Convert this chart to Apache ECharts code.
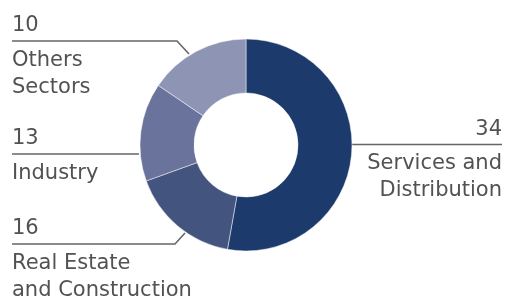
<!DOCTYPE html>
<html>
<head>
<meta charset="utf-8">
<script src="https://cdn.jsdelivr.net/npm/echarts@6/dist/echarts.min.js"></script>
<style>
  html, body { margin: 0; background: #fff; }
  #chart { width: 505px; height: 302px; }
</style>
</head>
<body>
<div id="chart"></div>
<script>
var sectors = ['Services and\nDistribution', 'Real Estate\nand Construction', 'Industry', 'Others\nSectors'];
var counts = [34, 16, 13, 10];
// slice sizes as drawn in the picture (they don't follow the counts)
var shares = [52.8, 16.7, 15.0, 15.5];
var colors = ['#1c3b6c', '#43547f', '#6a739b', '#8e95b4'];

// leader line spots for each label
var spots = [
  { side: 'right', y: 144.5, line: [[352, 144.5], [352, 144.5], [502, 144.5]] },
  { side: 'left', y: 244, line: [[185, 233], [175, 244], [12, 244]] },
  { side: 'left', y: 154, line: [[139, 154], [139, 154], [12, 154]] },
  { side: 'left', y: 41, line: [[189, 54], [177, 41], [12, 41]] }
];

var chart = echarts.init(document.getElementById('chart'));
chart.setOption({
  animation: false,
  series: [{
    type: 'pie',
    silent: true,
    center: [246, 145],
    radius: [52, 106],
    startAngle: 90,
    clockwise: true,
    avoidLabelOverlap: false,
    itemStyle: { borderColor: 'rgba(255,255,255,0.6)', borderWidth: 0.8 },
    label: {
      show: true,
      position: 'outside',
      formatter: function (p) {
        var lines = sectors[p.dataIndex].split('\n').map(function (s) {
          return '{name|' + s + '}';
        });
        return '{num|' + counts[p.dataIndex] + '}\n' + lines.join('\n');
      },
      rich: {
        num: { fontFamily: 'DejaVu Sans', fontSize: 21, color: '#525252', lineHeight: 42 },
        name: { fontFamily: 'DejaVu Sans', fontSize: 21, color: '#525252', lineHeight: 27 }
      }
    },
    labelLine: {
      show: true,
      lineStyle: { color: '#666', width: 1.6 }
    },
    labelLayout: function (p) {
      var s = spots[p.dataIndex];
      return {
        x: s.side === 'left' ? 12 : 502,
        y: s.y - 36,
        align: s.side,
        verticalAlign: 'top',
        labelLinePoints: s.line
      };
    },
    data: shares.map(function (v, i) {
      return { value: v, name: sectors[i], itemStyle: { color: colors[i] } };
    })
  }]
});
</script>
</body>
</html>
